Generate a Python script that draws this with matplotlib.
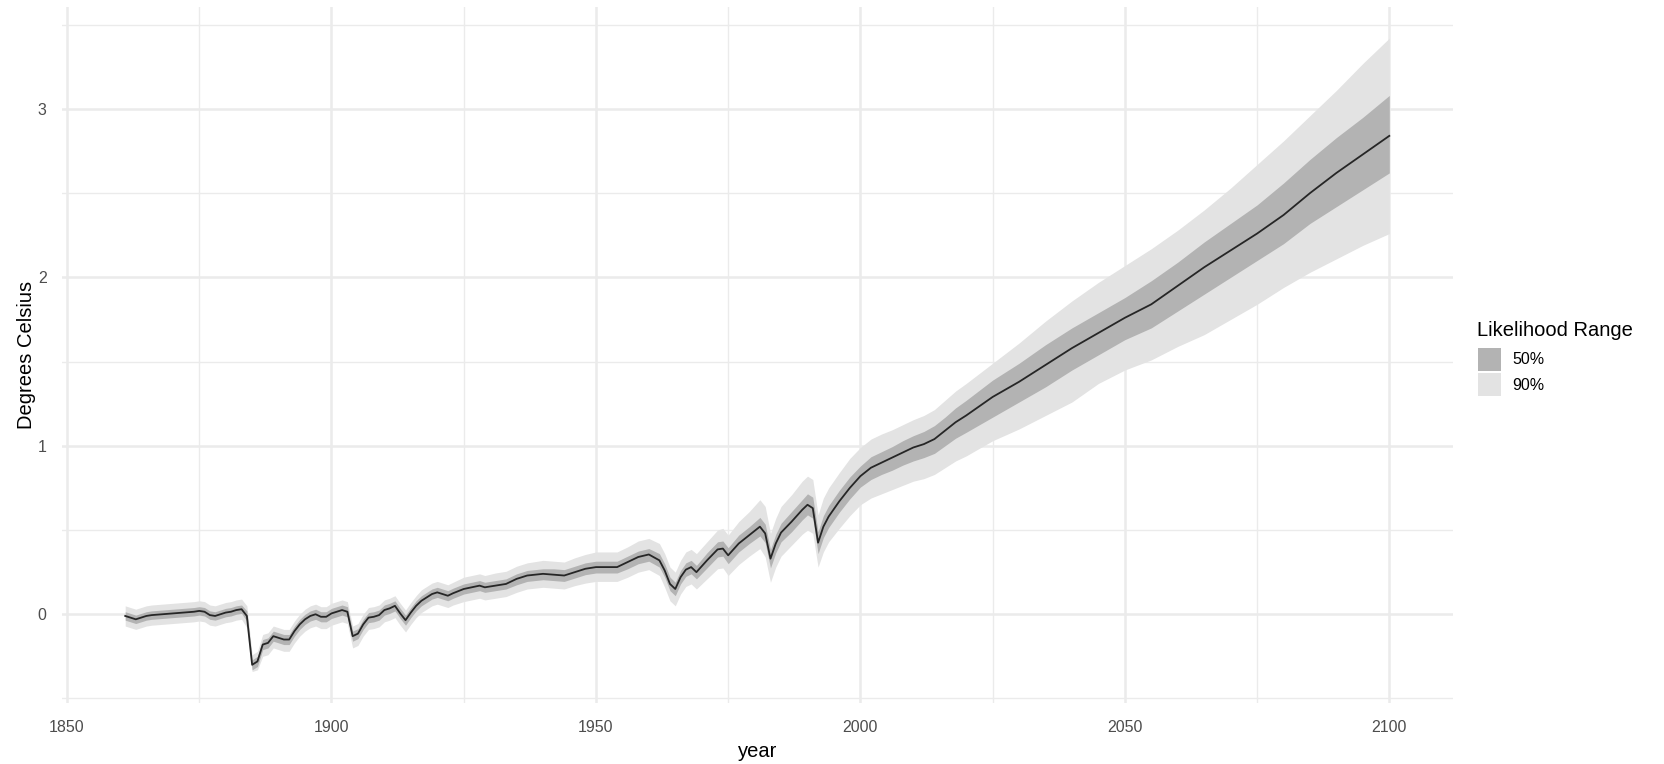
import matplotlib
matplotlib.use("Agg")
import matplotlib.pyplot as plt
from matplotlib.patches import Rectangle

# ---- data ----
year = [1861, 1862, 1863, 1864, 1865, 1866, 1868, 1870, 1872, 1874, 1875, 1876, 1877, 1878, 1879,
        1880, 1881, 1882, 1883, 1884, 1885, 1886, 1887, 1888, 1889, 1890, 1891, 1892, 1893, 1894,
        1895, 1896, 1897, 1898, 1899, 1900, 1901, 1902, 1903, 1904, 1905, 1906, 1907, 1908, 1909,
        1910, 1911, 1912, 1913, 1914, 1915, 1916, 1917, 1918, 1919, 1920, 1921, 1922, 1923, 1925,
        1928, 1929, 1931, 1933, 1935, 1937, 1940, 1942, 1944, 1946, 1948, 1950, 1954, 1956, 1958,
        1960, 1962, 1963, 1964, 1965, 1966, 1967, 1968, 1969, 1971, 1973, 1974, 1975, 1977, 1979,
        1981, 1982, 1983, 1984, 1985, 1987, 1989, 1990, 1991, 1992, 1993, 1994, 1996, 1998, 2000,
        2002, 2004, 2006, 2008, 2010, 2012, 2014, 2016, 2018, 2020, 2025, 2030, 2035, 2040, 2045,
        2050, 2055, 2060, 2065, 2070, 2075, 2080, 2085, 2090, 2095, 2100]

median = [-0.01, -0.02, -0.03, -0.02, -0.01, -0.005, 0.0, 0.005, 0.01, 0.015, 0.02, 0.015, -0.005, -0.01, 0.0,
          0.01, 0.015, 0.025, 0.03, -0.01, -0.30, -0.28, -0.18, -0.17, -0.13, -0.14, -0.15, -0.15, -0.10, -0.06,
          -0.03, -0.01, 0.0, -0.015, -0.015, 0.005, 0.015, 0.025, 0.015, -0.13, -0.115, -0.06, -0.02, -0.015, -0.005,
          0.025, 0.035, 0.05, 0.005, -0.035, 0.01, 0.05, 0.08, 0.10, 0.12, 0.13, 0.12, 0.11, 0.125, 0.15,
          0.17, 0.16, 0.17, 0.18, 0.21, 0.23, 0.24, 0.235, 0.23, 0.25, 0.27, 0.28, 0.28, 0.31, 0.34,
          0.355, 0.32, 0.26, 0.18, 0.15, 0.22, 0.265, 0.28, 0.25, 0.32, 0.385, 0.39, 0.35, 0.42, 0.47,
          0.52, 0.48, 0.33, 0.42, 0.485, 0.55, 0.62, 0.65, 0.63, 0.425, 0.52, 0.58, 0.67, 0.75, 0.82,
          0.87, 0.90, 0.93, 0.96, 0.99, 1.01, 1.04, 1.09, 1.14, 1.18, 1.29, 1.38, 1.48, 1.58, 1.67,
          1.76, 1.84, 1.95, 2.06, 2.16, 2.26, 2.37, 2.50, 2.62, 2.73, 2.84]

lo50 = [-0.035, -0.045, -0.055, -0.045, -0.035, -0.03, -0.025, -0.02, -0.015, -0.01, -0.005, -0.01, -0.03, -0.035, -0.025,
        -0.015, -0.01, 0.0, 0.005, -0.04, -0.33, -0.31, -0.21, -0.20, -0.16, -0.17, -0.18, -0.18, -0.13, -0.09,
        -0.06, -0.04, -0.03, -0.045, -0.045, -0.025, -0.015, -0.005, -0.015, -0.16, -0.145, -0.09, -0.05, -0.045, -0.035,
        -0.005, 0.005, 0.02, -0.025, -0.065, -0.02, 0.02, 0.05, 0.07, 0.09, 0.10, 0.09, 0.08, 0.095, 0.12,
        0.14, 0.13, 0.14, 0.15, 0.175, 0.195, 0.205, 0.20, 0.195, 0.215, 0.235, 0.245, 0.245, 0.27, 0.30,
        0.315, 0.28, 0.22, 0.14, 0.11, 0.18, 0.225, 0.24, 0.21, 0.275, 0.34, 0.345, 0.30, 0.37, 0.42,
        0.465, 0.425, 0.275, 0.365, 0.43, 0.49, 0.56, 0.59, 0.57, 0.36, 0.455, 0.515, 0.605, 0.685, 0.755,
        0.80, 0.83, 0.855, 0.885, 0.91, 0.93, 0.955, 1.00, 1.045, 1.08, 1.17, 1.26, 1.35, 1.45, 1.54,
        1.63, 1.70, 1.80, 1.90, 2.00, 2.10, 2.20, 2.32, 2.42, 2.52, 2.62]

hi50 = [0.015, 0.005, -0.005, 0.005, 0.015, 0.02, 0.025, 0.03, 0.035, 0.04, 0.045, 0.04, 0.02, 0.015, 0.025,
        0.035, 0.04, 0.05, 0.055, 0.02, -0.27, -0.25, -0.15, -0.14, -0.10, -0.11, -0.12, -0.12, -0.07, -0.03,
        0.0, 0.02, 0.03, 0.015, 0.015, 0.035, 0.045, 0.055, 0.045, -0.10, -0.085, -0.03, 0.01, 0.015, 0.025,
        0.055, 0.065, 0.08, 0.035, -0.005, 0.04, 0.08, 0.11, 0.13, 0.15, 0.16, 0.15, 0.14, 0.155, 0.18,
        0.20, 0.19, 0.20, 0.21, 0.24, 0.26, 0.27, 0.27, 0.265, 0.285, 0.305, 0.315, 0.315, 0.345, 0.375,
        0.39, 0.36, 0.30, 0.22, 0.19, 0.26, 0.305, 0.32, 0.29, 0.365, 0.43, 0.435, 0.395, 0.47, 0.52,
        0.575, 0.535, 0.385, 0.475, 0.54, 0.61, 0.68, 0.715, 0.695, 0.49, 0.585, 0.645, 0.735, 0.815, 0.88,
        0.935, 0.965, 0.995, 1.03, 1.06, 1.085, 1.12, 1.17, 1.225, 1.27, 1.39, 1.49, 1.60, 1.70, 1.79,
        1.88, 1.98, 2.09, 2.21, 2.32, 2.43, 2.56, 2.70, 2.83, 2.95, 3.08]

lo90 = [-0.07, -0.08, -0.09, -0.08, -0.07, -0.065, -0.06, -0.055, -0.05, -0.045, -0.04, -0.045, -0.065, -0.07, -0.06,
        -0.05, -0.045, -0.035, -0.03, -0.08, -0.34, -0.33, -0.25, -0.24, -0.20, -0.21, -0.22, -0.22, -0.17, -0.13,
        -0.10, -0.08, -0.07, -0.085, -0.085, -0.065, -0.055, -0.045, -0.055, -0.20, -0.185, -0.13, -0.09, -0.085, -0.075,
        -0.045, -0.035, -0.02, -0.065, -0.105, -0.06, -0.02, 0.01, 0.03, 0.05, 0.06, 0.05, 0.04, 0.055, 0.075,
        0.095, 0.085, 0.095, 0.105, 0.13, 0.15, 0.16, 0.155, 0.15, 0.17, 0.185, 0.195, 0.195, 0.22, 0.25,
        0.265, 0.23, 0.16, 0.08, 0.05, 0.12, 0.165, 0.18, 0.15, 0.21, 0.27, 0.275, 0.23, 0.295, 0.345,
        0.39, 0.34, 0.19, 0.28, 0.345, 0.41, 0.475, 0.50, 0.48, 0.28, 0.37, 0.43, 0.51, 0.585, 0.65,
        0.69, 0.715, 0.74, 0.765, 0.79, 0.805, 0.83, 0.87, 0.91, 0.94, 1.03, 1.10, 1.18, 1.26, 1.37,
        1.45, 1.51, 1.59, 1.66, 1.75, 1.84, 1.94, 2.03, 2.11, 2.19, 2.26]

hi90 = [0.05, 0.04, 0.03, 0.04, 0.05, 0.055, 0.06, 0.065, 0.07, 0.075, 0.08, 0.075, 0.055, 0.05, 0.06,
        0.07, 0.075, 0.085, 0.09, 0.05, -0.24, -0.22, -0.12, -0.11, -0.07, -0.08, -0.09, -0.09, -0.04, 0.0,
        0.03, 0.05, 0.06, 0.045, 0.045, 0.065, 0.075, 0.085, 0.075, -0.07, -0.055, 0.0, 0.04, 0.045, 0.055,
        0.085, 0.095, 0.11, 0.065, 0.025, 0.07, 0.11, 0.145, 0.165, 0.185, 0.195, 0.185, 0.175, 0.19, 0.22,
        0.24, 0.23, 0.245, 0.255, 0.285, 0.305, 0.32, 0.315, 0.31, 0.335, 0.355, 0.37, 0.37, 0.40, 0.435,
        0.45, 0.42, 0.36, 0.28, 0.25, 0.32, 0.37, 0.385, 0.36, 0.43, 0.50, 0.51, 0.47, 0.55, 0.61,
        0.68, 0.64, 0.48, 0.57, 0.64, 0.71, 0.79, 0.82, 0.80, 0.59, 0.69, 0.75, 0.84, 0.925, 0.99,
        1.04, 1.07, 1.095, 1.125, 1.155, 1.18, 1.215, 1.27, 1.325, 1.37, 1.49, 1.61, 1.74, 1.86, 1.97,
        2.07, 2.17, 2.28, 2.40, 2.53, 2.67, 2.81, 2.96, 3.11, 3.27, 3.42]

x_breaks = [1850, 1900, 1950, 2000, 2050, 2100]
x_minor = [1875, 1925, 1975, 2025, 2075]
y_breaks = [0, 1, 2, 3]
y_minor = [-0.5, 0.5, 1.5, 2.5, 3.5]
legend_title = "Likelihood Range"
legend_labels = ["50%", "90%"]

# ---- style ----
C50 = "#B3B3B3"
C90 = "#E3E3E3"
GRID = "#EBEBEB"
FONT = ["Liberation Sans", "DejaVu Sans"]
plt.rcParams["font.family"] = FONT

W, H, DPI = 1664, 764, 100
fig = plt.figure(figsize=(W / DPI, H / DPI), dpi=DPI, facecolor="white")
ax = fig.add_axes([62 / W, 1 - 703.2 / H, (1452.5 - 62) / W, (703.2 - 6.5) / H])
ax.set_facecolor("white")

ax.fill_between(year, lo90, hi90, color=C90, lw=0, zorder=2)
ax.fill_between(year, lo50, hi50, color=C50, lw=0, zorder=3)
ax.plot(year, median, color="#262626", lw=1.3, zorder=4, solid_joinstyle="round")

ax.set_xlim(1849.05, 2111.95)
ax.set_ylim(-0.528, 3.608)

ax.set_xticks(x_breaks)
ax.set_xticks(x_minor, minor=True)
ax.set_yticks(y_breaks)
ax.set_yticks(y_minor, minor=True)
ax.set_xticklabels([str(v) for v in x_breaks])
ax.set_yticklabels([str(v) for v in y_breaks])
ax.grid(which="major", color=GRID, lw=1.8, zorder=0)
ax.grid(which="minor", color=GRID, lw=1.0, zorder=0)
ax.set_axisbelow(True)
for s in ax.spines.values():
    s.set_visible(False)
ax.tick_params(which="both", length=0, labelsize=11.5, labelcolor="#4D4D4D")
ax.tick_params(axis="x", pad=12)
ax.tick_params(axis="y", pad=11)

ax.set_xlabel("year", fontsize=14.5, color="black", labelpad=5)
ax.set_ylabel("Degrees Celsius", fontsize=14.5, color="black", labelpad=1)

# ---- legend ----
fig.text(1477 / W, 1 - 330 / H, legend_title, fontsize=14.5, ha="left", va="center", color="black")
key_tops = [348, 373]
for i, (lab, col) in enumerate(zip(legend_labels, [C50, C90])):
    top = key_tops[i]
    fig.add_artist(Rectangle((1478 / W, 1 - (top + 23) / H), 23 / W, 23 / H,
                             transform=fig.transFigure, facecolor=col, edgecolor="none"))
    fig.text(1512 / W, 1 - (top + 12) / H, lab, fontsize=11.5, ha="left", va="center", color="black")

fig.savefig("out.png", dpi=DPI, facecolor="white")
